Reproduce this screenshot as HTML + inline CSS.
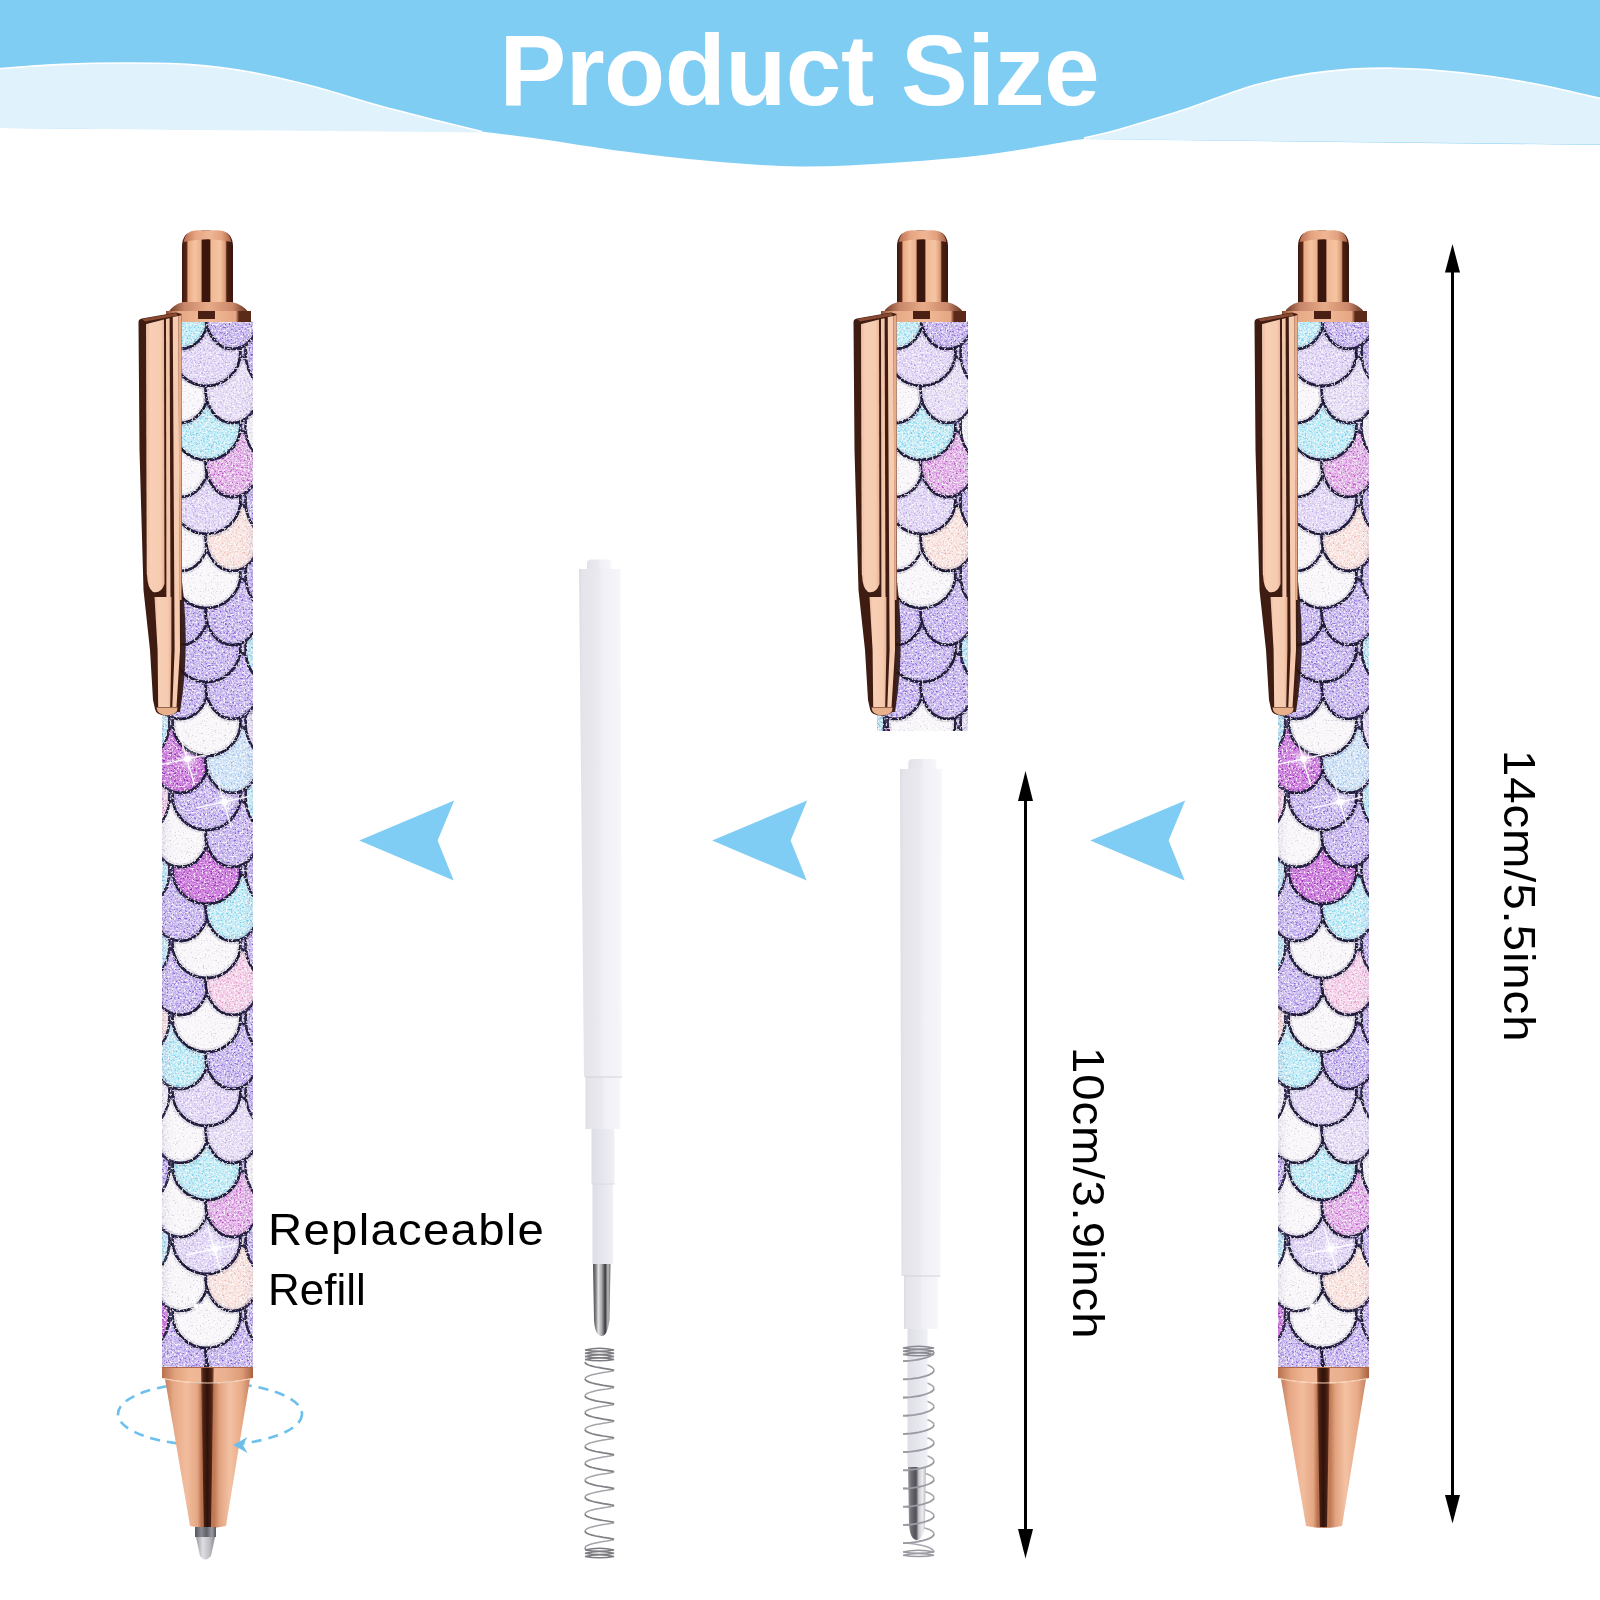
<!DOCTYPE html>
<html><head><meta charset="utf-8"><style>
html,body{margin:0;padding:0;background:#fff;}
body{width:1600px;height:1600px;position:relative;overflow:hidden;font-family:"Liberation Sans",sans-serif;}
.t{position:absolute;white-space:nowrap;line-height:1;}
</style></head><body>
<svg width="1600" height="1600" viewBox="0 0 1600 1600" style="position:absolute;left:0;top:0"><defs>
<filter id="glit" x="0" y="0" width="1" height="1">
 <feTurbulence type="fractalNoise" baseFrequency="0.5" numOctaves="2" seed="5"/>
 <feColorMatrix type="matrix" values="0 0 0 0 1  0 0 0 0 1  0 0 0 0 1  9 0 0 0 -5.0"/>
</filter>
<filter id="lnoise" x="0" y="0" width="1" height="1">
 <feTurbulence type="fractalNoise" baseFrequency="0.55" numOctaves="2" seed="21"/>
 <feColorMatrix type="matrix" values="3.2 0 0 0 -0.95  3.2 0 0 0 -0.95  3.2 0 0 0 -0.95  0 0 0 0 1"/>
</filter>
<filter id="glit2" x="0" y="0" width="1" height="1">
 <feTurbulence type="fractalNoise" baseFrequency="0.6" numOctaves="2" seed="11"/>
 <feColorMatrix type="matrix" values="0 0 0 0 0.1  0 0 0 0 0.1  0 0 0 0 0.2  14 0 0 0 -9.4"/>
</filter>
<linearGradient id="btn" x1="0" x2="1" y1="0" y2="0">
 <stop offset="0" stop-color="#3b170d"/><stop offset="0.09" stop-color="#5a2a1a"/>
 <stop offset="0.12" stop-color="#eaa982"/><stop offset="0.25" stop-color="#f6c3a1"/><stop offset="0.37" stop-color="#eab08c"/>
 <stop offset="0.40" stop-color="#3a160c"/><stop offset="0.54" stop-color="#3a160c"/>
 <stop offset="0.57" stop-color="#f0b996"/><stop offset="0.75" stop-color="#f6c4a2"/><stop offset="0.85" stop-color="#d99a76"/>
 <stop offset="0.88" stop-color="#4a1f12"/><stop offset="1" stop-color="#3a160c"/>
</linearGradient>
<linearGradient id="dome" x1="0" x2="1" y1="0" y2="0">
 <stop offset="0" stop-color="#b86e4e"/><stop offset="0.25" stop-color="#e6a582"/><stop offset="0.55" stop-color="#f0b694"/><stop offset="0.8" stop-color="#e2a07e"/><stop offset="1" stop-color="#a85e40"/>
</linearGradient>
<linearGradient id="shd" x1="0" x2="1" y1="0" y2="0">
 <stop offset="0" stop-color="#6a3420"/><stop offset="0.2" stop-color="#c7866a"/><stop offset="0.5" stop-color="#e8ab88"/>
 <stop offset="0.8" stop-color="#c9886a"/><stop offset="1" stop-color="#5a2a1a"/>
</linearGradient>
<linearGradient id="ring" x1="0" x2="1" y1="0" y2="0">
 <stop offset="0" stop-color="#8a4a30"/><stop offset="0.15" stop-color="#e5a783"/><stop offset="0.5" stop-color="#f2bb98"/>
 <stop offset="0.82" stop-color="#e4a683"/><stop offset="0.86" stop-color="#5c2a18"/><stop offset="1" stop-color="#5a2a1a"/>
</linearGradient>
<linearGradient id="ring2" x1="0" x2="1" y1="0" y2="0">
 <stop offset="0" stop-color="#b8714f"/><stop offset="0.15" stop-color="#e3a47f"/><stop offset="0.3" stop-color="#f0b896"/><stop offset="0.7" stop-color="#eab190"/><stop offset="0.88" stop-color="#dd9c78"/><stop offset="1" stop-color="#a9623f"/>
</linearGradient>
<linearGradient id="cone" x1="0" x2="1" y1="0" y2="0">
 <stop offset="0" stop-color="#c27e5c"/><stop offset="0.1" stop-color="#e7a885"/><stop offset="0.25" stop-color="#f2bd9e"/>
 <stop offset="0.38" stop-color="#e5a784"/><stop offset="0.43" stop-color="#b97250"/><stop offset="0.58" stop-color="#c07a56"/>
 <stop offset="0.64" stop-color="#e2a27f"/><stop offset="0.76" stop-color="#f3c2a3"/><stop offset="0.9" stop-color="#e8ab88"/><stop offset="1" stop-color="#c58260"/>
</linearGradient>
<linearGradient id="stripe" x1="0" x2="1" y1="0" y2="0">
 <stop offset="0" stop-color="#8a4a2e"/><stop offset="0.2" stop-color="#4a2014"/><stop offset="0.5" stop-color="#2e120a"/><stop offset="0.8" stop-color="#4a2014"/><stop offset="1" stop-color="#8a4a2e"/>
</linearGradient>
<linearGradient id="clipg" x1="0" x2="1" y1="0" y2="0">
 <stop offset="0" stop-color="#eeb99b"/><stop offset="0.2" stop-color="#f8cfb5"/><stop offset="0.8" stop-color="#f6cbb0"/><stop offset="1" stop-color="#e8b093"/>
</linearGradient>
<linearGradient id="tipg" x1="0" x2="1" y1="0" y2="0">
 <stop offset="0" stop-color="#55555c"/><stop offset="0.3" stop-color="#8a8a92"/><stop offset="0.55" stop-color="#606068"/><stop offset="0.8" stop-color="#9a9aa2"/><stop offset="1" stop-color="#55555c"/>
</linearGradient>
<linearGradient id="tipg2" x1="0" x2="1" y1="0" y2="0">
 <stop offset="0" stop-color="#9a9a9e"/><stop offset="0.35" stop-color="#dedee2"/><stop offset="0.7" stop-color="#c0c0c4"/><stop offset="1" stop-color="#8a8a8e"/>
</linearGradient>
<linearGradient id="mtip" x1="0" x2="1" y1="0" y2="0">
 <stop offset="0" stop-color="#4a4a4e"/><stop offset="0.18" stop-color="#8a8a8e"/><stop offset="0.3" stop-color="#e4e4e6"/>
 <stop offset="0.5" stop-color="#a8a8ac"/><stop offset="0.7" stop-color="#3a3a3e"/><stop offset="0.85" stop-color="#bdbdc0"/><stop offset="1" stop-color="#6a6a6e"/>
</linearGradient>
<linearGradient id="mtip2" x1="0" x2="1" y1="0" y2="0">
 <stop offset="0" stop-color="#9a9aa0"/><stop offset="0.2" stop-color="#6a6a70"/><stop offset="0.45" stop-color="#505056"/>
 <stop offset="0.6" stop-color="#c8c8ce"/><stop offset="0.8" stop-color="#ececf0"/><stop offset="1" stop-color="#b8b8be"/>
</linearGradient>
<linearGradient id="rfg" x1="0" x2="1" y1="0" y2="0">
 <stop offset="0" stop-color="#dcdce3"/><stop offset="0.08" stop-color="#e4e4ea"/><stop offset="0.45" stop-color="#e9e9ef"/>
 <stop offset="0.55" stop-color="#f0f0f6"/><stop offset="0.9" stop-color="#f4f4f9"/><stop offset="1" stop-color="#f8f8fb"/>
</linearGradient>
<linearGradient id="rfg2" x1="0" x2="1" y1="0" y2="0">
 <stop offset="0" stop-color="#dedee6"/><stop offset="0.5" stop-color="#e6e6ee"/><stop offset="1" stop-color="#f0f0f6"/>
</linearGradient>
<radialGradient id="glow"><stop offset="0" stop-color="#fff" stop-opacity="1"/><stop offset="0.35" stop-color="#fff" stop-opacity="0.6"/><stop offset="1" stop-color="#fff" stop-opacity="0"/></radialGradient>
<linearGradient id="cyl" x1="0" x2="1" y1="0" y2="0">
 <stop offset="0" stop-color="#5a3a8a" stop-opacity="0.18"/><stop offset="0.15" stop-color="#ffffff" stop-opacity="0"/>
 <stop offset="0.85" stop-color="#ffffff" stop-opacity="0"/><stop offset="1" stop-color="#5a3a8a" stop-opacity="0.12"/>
</linearGradient>
</defs><style>.so{stroke:#17152a;stroke-width:2.8}.sh{stroke:#2a2050;stroke-width:7;stroke-opacity:0.18}</style><path d="M0,0 L1600,0 L1600,145 L1084,139  C1075.0,139.7 1048.2,145.0 1030,148 C1011.8,151.0 998.3,153.5 975,156 C951.7,158.5 919.2,161.2 890,163 C860.8,164.8 830.0,166.8 800,166.5 C770.0,166.2 739.2,163.5 710,161 C680.8,158.5 653.3,155.3 625,151.6 C596.7,147.9 563.8,142.3 540,139 C516.2,135.7 491.7,132.8 482,131.5 L0,128 Z" fill="#80cdf4"/><path d="M0,68.5 C10.3,67.8 41.2,65.3 62,64.4 C82.8,63.5 104.2,63.0 125,63 C145.8,63.0 166.2,62.9 187,64.4 C207.8,65.9 229.2,68.4 250,72 C270.8,75.6 291.2,80.6 312,86 C332.8,91.4 354.2,98.8 375,104.5 C395.8,110.2 419.2,116.0 437,120.5 C454.8,125.0 474.5,129.7 482,131.5 L482,132.5 L0,128 Z" fill="#e0f2fc"/><path d="M1084,138 C1089.8,136.6 1101.8,134.3 1119,129.4 C1136.2,124.5 1164.2,116.2 1187,108.8 C1209.8,101.3 1233.0,90.9 1256,84.7 C1279.0,78.5 1302.0,74.3 1325,71.6 C1348.0,68.8 1371.2,68.0 1394,68.2 C1416.8,68.4 1439.2,70.2 1462,72.7 C1484.8,75.2 1508.0,78.7 1531,83 C1554.0,87.3 1588.5,95.8 1600,98.4 L1600,144.5 L1084,139 Z" fill="#e0f2fc"/><path d="M0,68.5 C10.3,67.8 41.2,65.3 62,64.4 C82.8,63.5 104.2,63.0 125,63 C145.8,63.0 166.2,62.9 187,64.4 C207.8,65.9 229.2,68.4 250,72 C270.8,75.6 291.2,80.6 312,86 C332.8,91.4 354.2,98.8 375,104.5 C395.8,110.2 419.2,116.0 437,120.5 C454.8,125.0 474.5,129.7 482,131.5" stroke="#ffffff" stroke-width="1.6" fill="none"/><path d="M1084,138 C1089.8,136.6 1101.8,134.3 1119,129.4 C1136.2,124.5 1164.2,116.2 1187,108.8 C1209.8,101.3 1233.0,90.9 1256,84.7 C1279.0,78.5 1302.0,74.3 1325,71.6 C1348.0,68.8 1371.2,68.0 1394,68.2 C1416.8,68.4 1439.2,70.2 1462,72.7 C1484.8,75.2 1508.0,78.7 1531,83 C1554.0,87.3 1588.5,95.8 1600,98.4" stroke="#ffffff" stroke-width="1.6" fill="none"/><path d="M359.2,840.4 L454.2,800.6 L437.6,840.4 L453.7,880.6 Z" fill="#7fcdf4"/><path d="M712.2,840.4 L807.2,800.6 L790.6,840.4 L806.7,880.6 Z" fill="#7fcdf4"/><path d="M1090.2,840.4 L1185.2,800.6 L1168.6,840.4 L1184.7,880.6 Z" fill="#7fcdf4"/><rect x="1451" y="270" width="3" height="1228" fill="#000"/><path d="M1452.5,244 L1460,272.5 L1445,272.5 Z" fill="#000"/><path d="M1452.5,1523.5 L1460,1495 L1445,1495 Z" fill="#000"/><rect x="1024" y="798" width="3" height="733" fill="#000"/><path d="M1025.5,771 L1033,801 L1018,801 Z" fill="#000"/><path d="M1025.5,1558.5 L1033,1529 L1018,1529 Z" fill="#000"/><ellipse cx="210" cy="1414" rx="92" ry="31.5" fill="none" stroke="#6dc0ec" stroke-width="2.6" stroke-dasharray="10 7"/><clipPath id="c1"><rect x="162" y="321" width="91" height="1048"/></clipPath><rect x="162" y="321" width="91" height="1048" fill="#c9b6ec"/><g clip-path="url(#c1)"><ellipse cx="147.5" cy="1388" rx="22" ry="34" fill="#b29ae8" class="so"/><ellipse cx="267.5" cy="1388" rx="22" ry="34" fill="#a6e3f4" class="so"/><circle cx="206.5" cy="1388" r="34" fill="#b29ae8" class="so"/><circle cx="206.5" cy="1388" r="34" fill="none" class="sh"/><ellipse cx="180.5" cy="1351" rx="28" ry="34" fill="#b29ae8" class="so"/><ellipse cx="180.5" cy="1351" rx="28" ry="34" fill="none" class="sh"/><ellipse cx="232.5" cy="1351" rx="27" ry="34" fill="#b29ae8" class="so"/><ellipse cx="232.5" cy="1351" rx="27" ry="34" fill="none" class="sh"/><ellipse cx="147.5" cy="1314" rx="22" ry="34" fill="#b962cf" class="so"/><ellipse cx="267.5" cy="1314" rx="22" ry="34" fill="#b29ae8" class="so"/><circle cx="206.5" cy="1314" r="34" fill="#f7f3f8" class="so"/><circle cx="206.5" cy="1314" r="34" fill="none" class="sh"/><ellipse cx="180.5" cy="1277" rx="28" ry="34" fill="#f7f3f8" class="so"/><ellipse cx="180.5" cy="1277" rx="28" ry="34" fill="none" class="sh"/><ellipse cx="232.5" cy="1277" rx="27" ry="34" fill="#f8d9d3" class="so"/><ellipse cx="232.5" cy="1277" rx="27" ry="34" fill="none" class="sh"/><ellipse cx="147.5" cy="1240" rx="22" ry="34" fill="#a6e3f4" class="so"/><ellipse cx="267.5" cy="1240" rx="22" ry="34" fill="#b29ae8" class="so"/><circle cx="206.5" cy="1240" r="34" fill="#d6c6f2" class="so"/><circle cx="206.5" cy="1240" r="34" fill="none" class="sh"/><ellipse cx="180.5" cy="1203" rx="28" ry="34" fill="#f7f3f8" class="so"/><ellipse cx="180.5" cy="1203" rx="28" ry="34" fill="none" class="sh"/><ellipse cx="232.5" cy="1203" rx="27" ry="34" fill="#d690dd" class="so"/><ellipse cx="232.5" cy="1203" rx="27" ry="34" fill="none" class="sh"/><ellipse cx="147.5" cy="1166" rx="22" ry="34" fill="#b29ae8" class="so"/><ellipse cx="267.5" cy="1166" rx="22" ry="34" fill="#f7f3f8" class="so"/><circle cx="206.5" cy="1166" r="34" fill="#a6e3f4" class="so"/><circle cx="206.5" cy="1166" r="34" fill="none" class="sh"/><ellipse cx="180.5" cy="1129" rx="28" ry="34" fill="#f7f3f8" class="so"/><ellipse cx="180.5" cy="1129" rx="28" ry="34" fill="none" class="sh"/><ellipse cx="232.5" cy="1129" rx="27" ry="34" fill="#ddd0f2" class="so"/><ellipse cx="232.5" cy="1129" rx="27" ry="34" fill="none" class="sh"/><ellipse cx="147.5" cy="1092" rx="22" ry="34" fill="#f7f3f8" class="so"/><ellipse cx="267.5" cy="1092" rx="22" ry="34" fill="#b29ae8" class="so"/><circle cx="206.5" cy="1092" r="34" fill="#d6c6f2" class="so"/><circle cx="206.5" cy="1092" r="34" fill="none" class="sh"/><ellipse cx="180.5" cy="1055" rx="28" ry="34" fill="#a6e3f4" class="so"/><ellipse cx="180.5" cy="1055" rx="28" ry="34" fill="none" class="sh"/><ellipse cx="232.5" cy="1055" rx="27" ry="34" fill="#b29ae8" class="so"/><ellipse cx="232.5" cy="1055" rx="27" ry="34" fill="none" class="sh"/><ellipse cx="147.5" cy="1018" rx="22" ry="34" fill="#f8d9d3" class="so"/><ellipse cx="267.5" cy="1018" rx="22" ry="34" fill="#b29ae8" class="so"/><circle cx="206.5" cy="1018" r="34" fill="#f7f3f8" class="so"/><circle cx="206.5" cy="1018" r="34" fill="none" class="sh"/><ellipse cx="180.5" cy="981" rx="28" ry="34" fill="#b29ae8" class="so"/><ellipse cx="180.5" cy="981" rx="28" ry="34" fill="none" class="sh"/><ellipse cx="232.5" cy="981" rx="27" ry="34" fill="#f1bde0" class="so"/><ellipse cx="232.5" cy="981" rx="27" ry="34" fill="none" class="sh"/><ellipse cx="147.5" cy="944" rx="22" ry="34" fill="#a6e3f4" class="so"/><ellipse cx="267.5" cy="944" rx="22" ry="34" fill="#b29ae8" class="so"/><circle cx="206.5" cy="944" r="34" fill="#f7f3f8" class="so"/><circle cx="206.5" cy="944" r="34" fill="none" class="sh"/><ellipse cx="180.5" cy="907" rx="28" ry="34" fill="#b29ae8" class="so"/><ellipse cx="180.5" cy="907" rx="28" ry="34" fill="none" class="sh"/><ellipse cx="232.5" cy="907" rx="27" ry="34" fill="#a6e3f4" class="so"/><ellipse cx="232.5" cy="907" rx="27" ry="34" fill="none" class="sh"/><ellipse cx="147.5" cy="870" rx="22" ry="34" fill="#a6e3f4" class="so"/><ellipse cx="267.5" cy="870" rx="22" ry="34" fill="#b29ae8" class="so"/><circle cx="206.5" cy="870" r="34" fill="#b962cf" class="so"/><circle cx="206.5" cy="870" r="34" fill="none" class="sh"/><ellipse cx="180.5" cy="833" rx="28" ry="34" fill="#f7f3f8" class="so"/><ellipse cx="180.5" cy="833" rx="28" ry="34" fill="none" class="sh"/><ellipse cx="232.5" cy="833" rx="27" ry="34" fill="#b29ae8" class="so"/><ellipse cx="232.5" cy="833" rx="27" ry="34" fill="none" class="sh"/><ellipse cx="147.5" cy="796" rx="22" ry="34" fill="#f1bde0" class="so"/><ellipse cx="267.5" cy="796" rx="22" ry="34" fill="#a6e3f4" class="so"/><circle cx="206.5" cy="796" r="34" fill="#b29ae8" class="so"/><circle cx="206.5" cy="796" r="34" fill="none" class="sh"/><ellipse cx="180.5" cy="759" rx="28" ry="34" fill="#b962cf" class="so"/><ellipse cx="180.5" cy="759" rx="28" ry="34" fill="none" class="sh"/><ellipse cx="232.5" cy="759" rx="27" ry="34" fill="#bcd8f4" class="so"/><ellipse cx="232.5" cy="759" rx="27" ry="34" fill="none" class="sh"/><ellipse cx="147.5" cy="722" rx="22" ry="34" fill="#a6e3f4" class="so"/><ellipse cx="267.5" cy="722" rx="22" ry="34" fill="#ddd0f2" class="so"/><circle cx="206.5" cy="722" r="34" fill="#f7f3f8" class="so"/><circle cx="206.5" cy="722" r="34" fill="none" class="sh"/><ellipse cx="180.5" cy="685" rx="28" ry="34" fill="#b29ae8" class="so"/><ellipse cx="180.5" cy="685" rx="28" ry="34" fill="none" class="sh"/><ellipse cx="232.5" cy="685" rx="27" ry="34" fill="#b29ae8" class="so"/><ellipse cx="232.5" cy="685" rx="27" ry="34" fill="none" class="sh"/><ellipse cx="147.5" cy="648" rx="22" ry="34" fill="#b29ae8" class="so"/><ellipse cx="267.5" cy="648" rx="22" ry="34" fill="#a6e3f4" class="so"/><circle cx="206.5" cy="648" r="34" fill="#b29ae8" class="so"/><circle cx="206.5" cy="648" r="34" fill="none" class="sh"/><ellipse cx="180.5" cy="611" rx="28" ry="34" fill="#b29ae8" class="so"/><ellipse cx="180.5" cy="611" rx="28" ry="34" fill="none" class="sh"/><ellipse cx="232.5" cy="611" rx="27" ry="34" fill="#b29ae8" class="so"/><ellipse cx="232.5" cy="611" rx="27" ry="34" fill="none" class="sh"/><ellipse cx="147.5" cy="574" rx="22" ry="34" fill="#b962cf" class="so"/><ellipse cx="267.5" cy="574" rx="22" ry="34" fill="#b29ae8" class="so"/><circle cx="206.5" cy="574" r="34" fill="#f7f3f8" class="so"/><circle cx="206.5" cy="574" r="34" fill="none" class="sh"/><ellipse cx="180.5" cy="537" rx="28" ry="34" fill="#f7f3f8" class="so"/><ellipse cx="180.5" cy="537" rx="28" ry="34" fill="none" class="sh"/><ellipse cx="232.5" cy="537" rx="27" ry="34" fill="#f8d9d3" class="so"/><ellipse cx="232.5" cy="537" rx="27" ry="34" fill="none" class="sh"/><ellipse cx="147.5" cy="500" rx="22" ry="34" fill="#a6e3f4" class="so"/><ellipse cx="267.5" cy="500" rx="22" ry="34" fill="#b29ae8" class="so"/><circle cx="206.5" cy="500" r="34" fill="#d6c6f2" class="so"/><circle cx="206.5" cy="500" r="34" fill="none" class="sh"/><ellipse cx="180.5" cy="463" rx="28" ry="34" fill="#f7f3f8" class="so"/><ellipse cx="180.5" cy="463" rx="28" ry="34" fill="none" class="sh"/><ellipse cx="232.5" cy="463" rx="27" ry="34" fill="#d690dd" class="so"/><ellipse cx="232.5" cy="463" rx="27" ry="34" fill="none" class="sh"/><ellipse cx="147.5" cy="426" rx="22" ry="34" fill="#b29ae8" class="so"/><ellipse cx="267.5" cy="426" rx="22" ry="34" fill="#f7f3f8" class="so"/><circle cx="206.5" cy="426" r="34" fill="#a6e3f4" class="so"/><circle cx="206.5" cy="426" r="34" fill="none" class="sh"/><ellipse cx="180.5" cy="389" rx="28" ry="34" fill="#f7f3f8" class="so"/><ellipse cx="180.5" cy="389" rx="28" ry="34" fill="none" class="sh"/><ellipse cx="232.5" cy="389" rx="27" ry="34" fill="#ddd0f2" class="so"/><ellipse cx="232.5" cy="389" rx="27" ry="34" fill="none" class="sh"/><ellipse cx="147.5" cy="352" rx="22" ry="34" fill="#f7f3f8" class="so"/><ellipse cx="267.5" cy="352" rx="22" ry="34" fill="#b29ae8" class="so"/><circle cx="206.5" cy="352" r="34" fill="#d6c6f2" class="so"/><circle cx="206.5" cy="352" r="34" fill="none" class="sh"/><ellipse cx="180.5" cy="315" rx="28" ry="34" fill="#a6e3f4" class="so"/><ellipse cx="180.5" cy="315" rx="28" ry="34" fill="none" class="sh"/><ellipse cx="232.5" cy="315" rx="27" ry="34" fill="#b29ae8" class="so"/><ellipse cx="232.5" cy="315" rx="27" ry="34" fill="none" class="sh"/></g><rect x="162" y="321" width="91" height="1048" fill="url(#cyl)"/><rect x="162" y="321" width="91" height="1048" filter="url(#lnoise)" style="mix-blend-mode:overlay" opacity="0.5"/><rect x="162" y="321" width="91" height="1048" filter="url(#glit)" opacity="0.75"/><rect x="162" y="321" width="91" height="1048" filter="url(#glit2)" opacity="0.2"/><g clip-path="url(#c1)"><circle cx="187.5" cy="759" r="11.0" fill="url(#glow)" opacity="0.9"/><path d="M159.5,765.0 L209.5,754.0" stroke="#fff" stroke-width="1.4" opacity="0.9"/><path d="M180.5,737.0 L194.5,785.0" stroke="#fff" stroke-width="1.4" opacity="0.9"/><circle cx="187.5" cy="759" r="3.2" fill="#fff"/><circle cx="224.5" cy="802" r="11.0" fill="url(#glow)" opacity="0.9"/><path d="M196.5,808.0 L246.5,797.0" stroke="#fff" stroke-width="1.4" opacity="0.9"/><path d="M217.5,780.0 L231.5,828.0" stroke="#fff" stroke-width="1.4" opacity="0.9"/><circle cx="224.5" cy="802" r="3.2" fill="#fff"/><circle cx="215" cy="1249" r="11.0" fill="url(#glow)" opacity="0.9"/><path d="M187.0,1255.0 L237.0,1244.0" stroke="#fff" stroke-width="1.4" opacity="0.9"/><path d="M208.0,1227.0 L222.0,1275.0" stroke="#fff" stroke-width="1.4" opacity="0.9"/><circle cx="215" cy="1249" r="3.2" fill="#fff"/><circle cx="196" cy="1306" r="7.699999999999999" fill="url(#glow)" opacity="0.9"/><path d="M176.4,1310.2 L211.4,1302.5" stroke="#fff" stroke-width="0.9799999999999999" opacity="0.9"/><path d="M191.1,1290.6 L200.9,1324.2" stroke="#fff" stroke-width="0.9799999999999999" opacity="0.9"/><circle cx="196" cy="1306" r="2.2399999999999998" fill="#fff"/></g><path d="M182,303 L182,246 Q182.5,232 195,230.5 L220,230.5 Q232.5,232 233,246 L233,303 Z" fill="url(#btn)"/><path d="M183.5,242 Q185,231.5 196,230.5 L219,230.5 Q230,231.5 231.5,242 Q207.5,236.5 183.5,242 Z" fill="url(#dome)"/><path d="M183,302 L232,302 Q244,305 249,313 L168,313 Q172,305 183,302 Z" fill="url(#shd)"/><rect x="166" y="311" width="85" height="11" fill="url(#ring)"/><rect x="198" y="311" width="17" height="8" fill="#4a2014"/><path d="M179,560 Q192,640 180,712 L172,712 L172,560 Z" fill="#2a1410" opacity="0.9"/><path d="M138.5,322 Q138.5,319 142,318.5 L176,312.5 L181.5,314 L182,600 L180.5,706 Q179,715 166,715.5 Q156,715 155,709 L153,700 L150,650 L143.5,590 L139.5,450 Z" fill="#3f1c12"/><path d="M146.5,324 L164,319.5 L164.5,584 Q161,594 153,592 Q147.5,588 147,575 Z" fill="url(#clipg)"/><path d="M146.2,324 L147.2,324 L147.7,575 L146.8,575 Z" fill="#f8d2ba"/><path d="M166,319 L169.6,318.2 L170.5,598 L166.4,598 Z" fill="#f3c6aa"/><path d="M154.5,597 L171.4,597 L171.4,650 L170.2,707 L158.2,707 L157.6,650 Z" fill="url(#clipg)"/><path d="M172.75,317 L178.4,316 L180,650 L176.5,707 L172.3,707 L174.6,650 Z" fill="#f6cbb0"/><path d="M178.4,316 L181.5,315 L181.5,600 L179.5,600 Z" fill="#e7ac8a"/><path d="M142,319 L176,313 L178,315.5 L145,321.5 Z" fill="#8a4a32"/><path d="M156.5,707.5 L177.5,707.5 Q178,715 167,715.5 Q157,715 156.5,707.5 Z" fill="#e9b08c"/><path d="M162,1367 L253,1367 L253,1378 Q207.5,1387 162,1378 Z" fill="url(#ring2)"/><path d="M165,1379 Q207.5,1388 250,1379 L226,1526 Q208,1530 190,1526 Z" fill="url(#cone)"/><path d="M201,1367 L213.7,1367 L211,1527 L203.8,1527 Z" fill="url(#stripe)"/><path d="M163,1378.5 Q207.5,1387.5 252,1378.5" stroke="#f6cdb0" stroke-width="1.2" fill="none"/><path d="M162,1367.5 L253,1367.5" stroke="#b06848" stroke-width="1" fill="none"/><rect x="195" y="1527" width="21" height="10" fill="url(#tipg)"/><path d="M196,1537 L215,1537 L211,1556 Q205.5,1563 200,1556 Z" fill="url(#tipg2)"/><clipPath id="c2"><rect x="877" y="321" width="91" height="410"/></clipPath><rect x="877" y="321" width="91" height="410" fill="#c9b6ec"/><g clip-path="url(#c2)"><ellipse cx="895.5" cy="759" rx="28" ry="34" fill="#b962cf" class="so"/><ellipse cx="895.5" cy="759" rx="28" ry="34" fill="none" class="sh"/><ellipse cx="947.5" cy="759" rx="27" ry="34" fill="#bcd8f4" class="so"/><ellipse cx="947.5" cy="759" rx="27" ry="34" fill="none" class="sh"/><ellipse cx="862.5" cy="722" rx="22" ry="34" fill="#a6e3f4" class="so"/><ellipse cx="982.5" cy="722" rx="22" ry="34" fill="#ddd0f2" class="so"/><circle cx="921.5" cy="722" r="34" fill="#f7f3f8" class="so"/><circle cx="921.5" cy="722" r="34" fill="none" class="sh"/><ellipse cx="895.5" cy="685" rx="28" ry="34" fill="#b29ae8" class="so"/><ellipse cx="895.5" cy="685" rx="28" ry="34" fill="none" class="sh"/><ellipse cx="947.5" cy="685" rx="27" ry="34" fill="#b29ae8" class="so"/><ellipse cx="947.5" cy="685" rx="27" ry="34" fill="none" class="sh"/><ellipse cx="862.5" cy="648" rx="22" ry="34" fill="#b29ae8" class="so"/><ellipse cx="982.5" cy="648" rx="22" ry="34" fill="#a6e3f4" class="so"/><circle cx="921.5" cy="648" r="34" fill="#b29ae8" class="so"/><circle cx="921.5" cy="648" r="34" fill="none" class="sh"/><ellipse cx="895.5" cy="611" rx="28" ry="34" fill="#b29ae8" class="so"/><ellipse cx="895.5" cy="611" rx="28" ry="34" fill="none" class="sh"/><ellipse cx="947.5" cy="611" rx="27" ry="34" fill="#b29ae8" class="so"/><ellipse cx="947.5" cy="611" rx="27" ry="34" fill="none" class="sh"/><ellipse cx="862.5" cy="574" rx="22" ry="34" fill="#b962cf" class="so"/><ellipse cx="982.5" cy="574" rx="22" ry="34" fill="#b29ae8" class="so"/><circle cx="921.5" cy="574" r="34" fill="#f7f3f8" class="so"/><circle cx="921.5" cy="574" r="34" fill="none" class="sh"/><ellipse cx="895.5" cy="537" rx="28" ry="34" fill="#f7f3f8" class="so"/><ellipse cx="895.5" cy="537" rx="28" ry="34" fill="none" class="sh"/><ellipse cx="947.5" cy="537" rx="27" ry="34" fill="#f8d9d3" class="so"/><ellipse cx="947.5" cy="537" rx="27" ry="34" fill="none" class="sh"/><ellipse cx="862.5" cy="500" rx="22" ry="34" fill="#a6e3f4" class="so"/><ellipse cx="982.5" cy="500" rx="22" ry="34" fill="#b29ae8" class="so"/><circle cx="921.5" cy="500" r="34" fill="#d6c6f2" class="so"/><circle cx="921.5" cy="500" r="34" fill="none" class="sh"/><ellipse cx="895.5" cy="463" rx="28" ry="34" fill="#f7f3f8" class="so"/><ellipse cx="895.5" cy="463" rx="28" ry="34" fill="none" class="sh"/><ellipse cx="947.5" cy="463" rx="27" ry="34" fill="#d690dd" class="so"/><ellipse cx="947.5" cy="463" rx="27" ry="34" fill="none" class="sh"/><ellipse cx="862.5" cy="426" rx="22" ry="34" fill="#b29ae8" class="so"/><ellipse cx="982.5" cy="426" rx="22" ry="34" fill="#f7f3f8" class="so"/><circle cx="921.5" cy="426" r="34" fill="#a6e3f4" class="so"/><circle cx="921.5" cy="426" r="34" fill="none" class="sh"/><ellipse cx="895.5" cy="389" rx="28" ry="34" fill="#f7f3f8" class="so"/><ellipse cx="895.5" cy="389" rx="28" ry="34" fill="none" class="sh"/><ellipse cx="947.5" cy="389" rx="27" ry="34" fill="#ddd0f2" class="so"/><ellipse cx="947.5" cy="389" rx="27" ry="34" fill="none" class="sh"/><ellipse cx="862.5" cy="352" rx="22" ry="34" fill="#f7f3f8" class="so"/><ellipse cx="982.5" cy="352" rx="22" ry="34" fill="#b29ae8" class="so"/><circle cx="921.5" cy="352" r="34" fill="#d6c6f2" class="so"/><circle cx="921.5" cy="352" r="34" fill="none" class="sh"/><ellipse cx="895.5" cy="315" rx="28" ry="34" fill="#a6e3f4" class="so"/><ellipse cx="895.5" cy="315" rx="28" ry="34" fill="none" class="sh"/><ellipse cx="947.5" cy="315" rx="27" ry="34" fill="#b29ae8" class="so"/><ellipse cx="947.5" cy="315" rx="27" ry="34" fill="none" class="sh"/></g><rect x="877" y="321" width="91" height="410" fill="url(#cyl)"/><rect x="877" y="321" width="91" height="410" filter="url(#lnoise)" style="mix-blend-mode:overlay" opacity="0.5"/><rect x="877" y="321" width="91" height="410" filter="url(#glit)" opacity="0.75"/><rect x="877" y="321" width="91" height="410" filter="url(#glit2)" opacity="0.2"/><path d="M897,303 L897,246 Q897.5,232 910,230.5 L935,230.5 Q947.5,232 948,246 L948,303 Z" fill="url(#btn)"/><path d="M898.5,242 Q900,231.5 911,230.5 L934,230.5 Q945,231.5 946.5,242 Q922.5,236.5 898.5,242 Z" fill="url(#dome)"/><path d="M898,302 L947,302 Q959,305 964,313 L883,313 Q887,305 898,302 Z" fill="url(#shd)"/><rect x="881" y="311" width="85" height="11" fill="url(#ring)"/><rect x="913" y="311" width="17" height="8" fill="#4a2014"/><path d="M894,560 Q907,640 895,712 L887,712 L887,560 Z" fill="#2a1410" opacity="0.9"/><path d="M853.5,322 Q853.5,319 857,318.5 L891,312.5 L896.5,314 L897,600 L895.5,706 Q894,715 881,715.5 Q871,715 870,709 L868,700 L865,650 L858.5,590 L854.5,450 Z" fill="#3f1c12"/><path d="M861.5,324 L879,319.5 L879.5,584 Q876,594 868,592 Q862.5,588 862,575 Z" fill="url(#clipg)"/><path d="M861.2,324 L862.2,324 L862.7,575 L861.8,575 Z" fill="#f8d2ba"/><path d="M881,319 L884.6,318.2 L885.5,598 L881.4,598 Z" fill="#f3c6aa"/><path d="M869.5,597 L886.4,597 L886.4,650 L885.2,707 L873.2,707 L872.6,650 Z" fill="url(#clipg)"/><path d="M887.75,317 L893.4,316 L895,650 L891.5,707 L887.3,707 L889.6,650 Z" fill="#f6cbb0"/><path d="M893.4,316 L896.5,315 L896.5,600 L894.5,600 Z" fill="#e7ac8a"/><path d="M857,319 L891,313 L893,315.5 L860,321.5 Z" fill="#8a4a32"/><path d="M871.5,707.5 L892.5,707.5 Q893,715 882,715.5 Q872,715 871.5,707.5 Z" fill="#e9b08c"/><clipPath id="c3"><rect x="1278" y="321" width="91" height="1048"/></clipPath><rect x="1278" y="321" width="91" height="1048" fill="#c9b6ec"/><g clip-path="url(#c3)"><ellipse cx="1263.5" cy="1388" rx="22" ry="34" fill="#b29ae8" class="so"/><ellipse cx="1383.5" cy="1388" rx="22" ry="34" fill="#a6e3f4" class="so"/><circle cx="1322.5" cy="1388" r="34" fill="#b29ae8" class="so"/><circle cx="1322.5" cy="1388" r="34" fill="none" class="sh"/><ellipse cx="1296.5" cy="1351" rx="28" ry="34" fill="#b29ae8" class="so"/><ellipse cx="1296.5" cy="1351" rx="28" ry="34" fill="none" class="sh"/><ellipse cx="1348.5" cy="1351" rx="27" ry="34" fill="#b29ae8" class="so"/><ellipse cx="1348.5" cy="1351" rx="27" ry="34" fill="none" class="sh"/><ellipse cx="1263.5" cy="1314" rx="22" ry="34" fill="#b962cf" class="so"/><ellipse cx="1383.5" cy="1314" rx="22" ry="34" fill="#b29ae8" class="so"/><circle cx="1322.5" cy="1314" r="34" fill="#f7f3f8" class="so"/><circle cx="1322.5" cy="1314" r="34" fill="none" class="sh"/><ellipse cx="1296.5" cy="1277" rx="28" ry="34" fill="#f7f3f8" class="so"/><ellipse cx="1296.5" cy="1277" rx="28" ry="34" fill="none" class="sh"/><ellipse cx="1348.5" cy="1277" rx="27" ry="34" fill="#f8d9d3" class="so"/><ellipse cx="1348.5" cy="1277" rx="27" ry="34" fill="none" class="sh"/><ellipse cx="1263.5" cy="1240" rx="22" ry="34" fill="#a6e3f4" class="so"/><ellipse cx="1383.5" cy="1240" rx="22" ry="34" fill="#b29ae8" class="so"/><circle cx="1322.5" cy="1240" r="34" fill="#d6c6f2" class="so"/><circle cx="1322.5" cy="1240" r="34" fill="none" class="sh"/><ellipse cx="1296.5" cy="1203" rx="28" ry="34" fill="#f7f3f8" class="so"/><ellipse cx="1296.5" cy="1203" rx="28" ry="34" fill="none" class="sh"/><ellipse cx="1348.5" cy="1203" rx="27" ry="34" fill="#d690dd" class="so"/><ellipse cx="1348.5" cy="1203" rx="27" ry="34" fill="none" class="sh"/><ellipse cx="1263.5" cy="1166" rx="22" ry="34" fill="#b29ae8" class="so"/><ellipse cx="1383.5" cy="1166" rx="22" ry="34" fill="#f7f3f8" class="so"/><circle cx="1322.5" cy="1166" r="34" fill="#a6e3f4" class="so"/><circle cx="1322.5" cy="1166" r="34" fill="none" class="sh"/><ellipse cx="1296.5" cy="1129" rx="28" ry="34" fill="#f7f3f8" class="so"/><ellipse cx="1296.5" cy="1129" rx="28" ry="34" fill="none" class="sh"/><ellipse cx="1348.5" cy="1129" rx="27" ry="34" fill="#ddd0f2" class="so"/><ellipse cx="1348.5" cy="1129" rx="27" ry="34" fill="none" class="sh"/><ellipse cx="1263.5" cy="1092" rx="22" ry="34" fill="#f7f3f8" class="so"/><ellipse cx="1383.5" cy="1092" rx="22" ry="34" fill="#b29ae8" class="so"/><circle cx="1322.5" cy="1092" r="34" fill="#d6c6f2" class="so"/><circle cx="1322.5" cy="1092" r="34" fill="none" class="sh"/><ellipse cx="1296.5" cy="1055" rx="28" ry="34" fill="#a6e3f4" class="so"/><ellipse cx="1296.5" cy="1055" rx="28" ry="34" fill="none" class="sh"/><ellipse cx="1348.5" cy="1055" rx="27" ry="34" fill="#b29ae8" class="so"/><ellipse cx="1348.5" cy="1055" rx="27" ry="34" fill="none" class="sh"/><ellipse cx="1263.5" cy="1018" rx="22" ry="34" fill="#f8d9d3" class="so"/><ellipse cx="1383.5" cy="1018" rx="22" ry="34" fill="#b29ae8" class="so"/><circle cx="1322.5" cy="1018" r="34" fill="#f7f3f8" class="so"/><circle cx="1322.5" cy="1018" r="34" fill="none" class="sh"/><ellipse cx="1296.5" cy="981" rx="28" ry="34" fill="#b29ae8" class="so"/><ellipse cx="1296.5" cy="981" rx="28" ry="34" fill="none" class="sh"/><ellipse cx="1348.5" cy="981" rx="27" ry="34" fill="#f1bde0" class="so"/><ellipse cx="1348.5" cy="981" rx="27" ry="34" fill="none" class="sh"/><ellipse cx="1263.5" cy="944" rx="22" ry="34" fill="#a6e3f4" class="so"/><ellipse cx="1383.5" cy="944" rx="22" ry="34" fill="#b29ae8" class="so"/><circle cx="1322.5" cy="944" r="34" fill="#f7f3f8" class="so"/><circle cx="1322.5" cy="944" r="34" fill="none" class="sh"/><ellipse cx="1296.5" cy="907" rx="28" ry="34" fill="#b29ae8" class="so"/><ellipse cx="1296.5" cy="907" rx="28" ry="34" fill="none" class="sh"/><ellipse cx="1348.5" cy="907" rx="27" ry="34" fill="#a6e3f4" class="so"/><ellipse cx="1348.5" cy="907" rx="27" ry="34" fill="none" class="sh"/><ellipse cx="1263.5" cy="870" rx="22" ry="34" fill="#a6e3f4" class="so"/><ellipse cx="1383.5" cy="870" rx="22" ry="34" fill="#b29ae8" class="so"/><circle cx="1322.5" cy="870" r="34" fill="#b962cf" class="so"/><circle cx="1322.5" cy="870" r="34" fill="none" class="sh"/><ellipse cx="1296.5" cy="833" rx="28" ry="34" fill="#f7f3f8" class="so"/><ellipse cx="1296.5" cy="833" rx="28" ry="34" fill="none" class="sh"/><ellipse cx="1348.5" cy="833" rx="27" ry="34" fill="#b29ae8" class="so"/><ellipse cx="1348.5" cy="833" rx="27" ry="34" fill="none" class="sh"/><ellipse cx="1263.5" cy="796" rx="22" ry="34" fill="#f1bde0" class="so"/><ellipse cx="1383.5" cy="796" rx="22" ry="34" fill="#a6e3f4" class="so"/><circle cx="1322.5" cy="796" r="34" fill="#b29ae8" class="so"/><circle cx="1322.5" cy="796" r="34" fill="none" class="sh"/><ellipse cx="1296.5" cy="759" rx="28" ry="34" fill="#b962cf" class="so"/><ellipse cx="1296.5" cy="759" rx="28" ry="34" fill="none" class="sh"/><ellipse cx="1348.5" cy="759" rx="27" ry="34" fill="#bcd8f4" class="so"/><ellipse cx="1348.5" cy="759" rx="27" ry="34" fill="none" class="sh"/><ellipse cx="1263.5" cy="722" rx="22" ry="34" fill="#a6e3f4" class="so"/><ellipse cx="1383.5" cy="722" rx="22" ry="34" fill="#ddd0f2" class="so"/><circle cx="1322.5" cy="722" r="34" fill="#f7f3f8" class="so"/><circle cx="1322.5" cy="722" r="34" fill="none" class="sh"/><ellipse cx="1296.5" cy="685" rx="28" ry="34" fill="#b29ae8" class="so"/><ellipse cx="1296.5" cy="685" rx="28" ry="34" fill="none" class="sh"/><ellipse cx="1348.5" cy="685" rx="27" ry="34" fill="#b29ae8" class="so"/><ellipse cx="1348.5" cy="685" rx="27" ry="34" fill="none" class="sh"/><ellipse cx="1263.5" cy="648" rx="22" ry="34" fill="#b29ae8" class="so"/><ellipse cx="1383.5" cy="648" rx="22" ry="34" fill="#a6e3f4" class="so"/><circle cx="1322.5" cy="648" r="34" fill="#b29ae8" class="so"/><circle cx="1322.5" cy="648" r="34" fill="none" class="sh"/><ellipse cx="1296.5" cy="611" rx="28" ry="34" fill="#b29ae8" class="so"/><ellipse cx="1296.5" cy="611" rx="28" ry="34" fill="none" class="sh"/><ellipse cx="1348.5" cy="611" rx="27" ry="34" fill="#b29ae8" class="so"/><ellipse cx="1348.5" cy="611" rx="27" ry="34" fill="none" class="sh"/><ellipse cx="1263.5" cy="574" rx="22" ry="34" fill="#b962cf" class="so"/><ellipse cx="1383.5" cy="574" rx="22" ry="34" fill="#b29ae8" class="so"/><circle cx="1322.5" cy="574" r="34" fill="#f7f3f8" class="so"/><circle cx="1322.5" cy="574" r="34" fill="none" class="sh"/><ellipse cx="1296.5" cy="537" rx="28" ry="34" fill="#f7f3f8" class="so"/><ellipse cx="1296.5" cy="537" rx="28" ry="34" fill="none" class="sh"/><ellipse cx="1348.5" cy="537" rx="27" ry="34" fill="#f8d9d3" class="so"/><ellipse cx="1348.5" cy="537" rx="27" ry="34" fill="none" class="sh"/><ellipse cx="1263.5" cy="500" rx="22" ry="34" fill="#a6e3f4" class="so"/><ellipse cx="1383.5" cy="500" rx="22" ry="34" fill="#b29ae8" class="so"/><circle cx="1322.5" cy="500" r="34" fill="#d6c6f2" class="so"/><circle cx="1322.5" cy="500" r="34" fill="none" class="sh"/><ellipse cx="1296.5" cy="463" rx="28" ry="34" fill="#f7f3f8" class="so"/><ellipse cx="1296.5" cy="463" rx="28" ry="34" fill="none" class="sh"/><ellipse cx="1348.5" cy="463" rx="27" ry="34" fill="#d690dd" class="so"/><ellipse cx="1348.5" cy="463" rx="27" ry="34" fill="none" class="sh"/><ellipse cx="1263.5" cy="426" rx="22" ry="34" fill="#b29ae8" class="so"/><ellipse cx="1383.5" cy="426" rx="22" ry="34" fill="#f7f3f8" class="so"/><circle cx="1322.5" cy="426" r="34" fill="#a6e3f4" class="so"/><circle cx="1322.5" cy="426" r="34" fill="none" class="sh"/><ellipse cx="1296.5" cy="389" rx="28" ry="34" fill="#f7f3f8" class="so"/><ellipse cx="1296.5" cy="389" rx="28" ry="34" fill="none" class="sh"/><ellipse cx="1348.5" cy="389" rx="27" ry="34" fill="#ddd0f2" class="so"/><ellipse cx="1348.5" cy="389" rx="27" ry="34" fill="none" class="sh"/><ellipse cx="1263.5" cy="352" rx="22" ry="34" fill="#f7f3f8" class="so"/><ellipse cx="1383.5" cy="352" rx="22" ry="34" fill="#b29ae8" class="so"/><circle cx="1322.5" cy="352" r="34" fill="#d6c6f2" class="so"/><circle cx="1322.5" cy="352" r="34" fill="none" class="sh"/><ellipse cx="1296.5" cy="315" rx="28" ry="34" fill="#a6e3f4" class="so"/><ellipse cx="1296.5" cy="315" rx="28" ry="34" fill="none" class="sh"/><ellipse cx="1348.5" cy="315" rx="27" ry="34" fill="#b29ae8" class="so"/><ellipse cx="1348.5" cy="315" rx="27" ry="34" fill="none" class="sh"/></g><rect x="1278" y="321" width="91" height="1048" fill="url(#cyl)"/><rect x="1278" y="321" width="91" height="1048" filter="url(#lnoise)" style="mix-blend-mode:overlay" opacity="0.5"/><rect x="1278" y="321" width="91" height="1048" filter="url(#glit)" opacity="0.75"/><rect x="1278" y="321" width="91" height="1048" filter="url(#glit2)" opacity="0.2"/><g clip-path="url(#c3)"><circle cx="1303.5" cy="759" r="11.0" fill="url(#glow)" opacity="0.9"/><path d="M1275.5,765.0 L1325.5,754.0" stroke="#fff" stroke-width="1.4" opacity="0.9"/><path d="M1296.5,737.0 L1310.5,785.0" stroke="#fff" stroke-width="1.4" opacity="0.9"/><circle cx="1303.5" cy="759" r="3.2" fill="#fff"/><circle cx="1340.5" cy="802" r="11.0" fill="url(#glow)" opacity="0.9"/><path d="M1312.5,808.0 L1362.5,797.0" stroke="#fff" stroke-width="1.4" opacity="0.9"/><path d="M1333.5,780.0 L1347.5,828.0" stroke="#fff" stroke-width="1.4" opacity="0.9"/><circle cx="1340.5" cy="802" r="3.2" fill="#fff"/><circle cx="1331" cy="1249" r="11.0" fill="url(#glow)" opacity="0.9"/><path d="M1303.0,1255.0 L1353.0,1244.0" stroke="#fff" stroke-width="1.4" opacity="0.9"/><path d="M1324.0,1227.0 L1338.0,1275.0" stroke="#fff" stroke-width="1.4" opacity="0.9"/><circle cx="1331" cy="1249" r="3.2" fill="#fff"/><circle cx="1312" cy="1306" r="7.699999999999999" fill="url(#glow)" opacity="0.9"/><path d="M1292.4,1310.2 L1327.4,1302.5" stroke="#fff" stroke-width="0.9799999999999999" opacity="0.9"/><path d="M1307.1,1290.6 L1316.9,1324.2" stroke="#fff" stroke-width="0.9799999999999999" opacity="0.9"/><circle cx="1312" cy="1306" r="2.2399999999999998" fill="#fff"/></g><path d="M1298,303 L1298,246 Q1298.5,232 1311,230.5 L1336,230.5 Q1348.5,232 1349,246 L1349,303 Z" fill="url(#btn)"/><path d="M1299.5,242 Q1301,231.5 1312,230.5 L1335,230.5 Q1346,231.5 1347.5,242 Q1323.5,236.5 1299.5,242 Z" fill="url(#dome)"/><path d="M1299,302 L1348,302 Q1360,305 1365,313 L1284,313 Q1288,305 1299,302 Z" fill="url(#shd)"/><rect x="1282" y="311" width="85" height="11" fill="url(#ring)"/><rect x="1314" y="311" width="17" height="8" fill="#4a2014"/><path d="M1295,560 Q1308,640 1296,712 L1288,712 L1288,560 Z" fill="#2a1410" opacity="0.9"/><path d="M1254.5,322 Q1254.5,319 1258,318.5 L1292,312.5 L1297.5,314 L1298,600 L1296.5,706 Q1295,715 1282,715.5 Q1272,715 1271,709 L1269,700 L1266,650 L1259.5,590 L1255.5,450 Z" fill="#3f1c12"/><path d="M1262.5,324 L1280,319.5 L1280.5,584 Q1277,594 1269,592 Q1263.5,588 1263,575 Z" fill="url(#clipg)"/><path d="M1262.2,324 L1263.2,324 L1263.7,575 L1262.8,575 Z" fill="#f8d2ba"/><path d="M1282,319 L1285.6,318.2 L1286.5,598 L1282.4,598 Z" fill="#f3c6aa"/><path d="M1270.5,597 L1287.4,597 L1287.4,650 L1286.2,707 L1274.2,707 L1273.6,650 Z" fill="url(#clipg)"/><path d="M1288.75,317 L1294.4,316 L1296,650 L1292.5,707 L1288.3,707 L1290.6,650 Z" fill="#f6cbb0"/><path d="M1294.4,316 L1297.5,315 L1297.5,600 L1295.5,600 Z" fill="#e7ac8a"/><path d="M1258,319 L1292,313 L1294,315.5 L1261,321.5 Z" fill="#8a4a32"/><path d="M1272.5,707.5 L1293.5,707.5 Q1294,715 1283,715.5 Q1273,715 1272.5,707.5 Z" fill="#e9b08c"/><path d="M1278,1367 L1369,1367 L1369,1378 Q1323.5,1387 1278,1378 Z" fill="url(#ring2)"/><path d="M1281,1379 Q1323.5,1388 1366,1379 L1342,1526 Q1324,1530 1306,1526 Z" fill="url(#cone)"/><path d="M1317,1367 L1329.7,1367 L1327,1527 L1319.8,1527 Z" fill="url(#stripe)"/><path d="M1279,1378.5 Q1323.5,1387.5 1368,1378.5" stroke="#f6cdb0" stroke-width="1.2" fill="none"/><path d="M1278,1367.5 L1369,1367.5" stroke="#b06848" stroke-width="1" fill="none"/><path d="M233,1445 L247.5,1437 L243,1445 L247.5,1453 Z" fill="#6dbfea"/><path d="M585.0,1350.0 Q599.5,1346.5 614.0,1350.0 Q599.5,1352.5 585.0,1350.0" stroke="#7b7b80" stroke-width="1.5" fill="none"/><path d="M585.0,1353.2 Q599.5,1349.7 614.0,1353.2 Q599.5,1355.7 585.0,1353.2" stroke="#7b7b80" stroke-width="1.5" fill="none"/><path d="M585.0,1356.4 Q599.5,1352.9 614.0,1356.4 Q599.5,1358.9 585.0,1356.4" stroke="#7b7b80" stroke-width="1.5" fill="none"/><path d="M585.0,1359.6 Q599.5,1356.1 614.0,1359.6 Q599.5,1362.1 585.0,1359.6" stroke="#7b7b80" stroke-width="1.5" fill="none"/><path d="M614.0,1370.5 L613.5,1370.8 L612.1,1371.1 L609.8,1371.5 L606.8,1372.0 L603.3,1372.5 L599.5,1373.2 L595.7,1373.9 L592.2,1374.8 L589.2,1375.7 L586.9,1376.7 L585.5,1377.8 L585.0,1378.9M614.0,1387.4 L613.5,1387.7 L612.1,1388.0 L609.8,1388.4 L606.8,1388.9 L603.3,1389.4 L599.5,1390.1 L595.7,1390.8 L592.2,1391.7 L589.2,1392.6 L586.9,1393.6 L585.5,1394.7 L585.0,1395.8M614.0,1404.2 L613.5,1404.6 L612.1,1404.9 L609.8,1405.3 L606.8,1405.8 L603.3,1406.3 L599.5,1407.0 L595.7,1407.7 L592.2,1408.6 L589.2,1409.5 L586.9,1410.5 L585.5,1411.6 L585.0,1412.7M614.0,1421.2 L613.5,1421.5 L612.1,1421.8 L609.8,1422.2 L606.8,1422.7 L603.3,1423.2 L599.5,1423.9 L595.7,1424.6 L592.2,1425.5 L589.2,1426.4 L586.9,1427.4 L585.5,1428.5 L585.0,1429.6M614.0,1438.0 L613.5,1438.4 L612.1,1438.7 L609.8,1439.1 L606.8,1439.6 L603.3,1440.1 L599.5,1440.8 L595.7,1441.5 L592.2,1442.4 L589.2,1443.3 L586.9,1444.3 L585.5,1445.4 L585.0,1446.5M614.0,1455.0 L613.5,1455.3 L612.1,1455.6 L609.8,1456.0 L606.8,1456.5 L603.3,1457.0 L599.5,1457.7 L595.7,1458.4 L592.2,1459.3 L589.2,1460.2 L586.9,1461.2 L585.5,1462.3 L585.0,1463.4M614.0,1471.9 L613.5,1472.2 L612.1,1472.5 L609.8,1472.9 L606.8,1473.4 L603.3,1473.9 L599.5,1474.6 L595.7,1475.3 L592.2,1476.2 L589.2,1477.1 L586.9,1478.1 L585.5,1479.2 L585.0,1480.3M614.0,1488.8 L613.5,1489.1 L612.1,1489.4 L609.8,1489.8 L606.8,1490.3 L603.3,1490.8 L599.5,1491.5 L595.7,1492.2 L592.2,1493.1 L589.2,1494.0 L586.9,1495.0 L585.5,1496.1 L585.0,1497.2M614.0,1505.7 L613.5,1506.0 L612.1,1506.3 L609.8,1506.7 L606.8,1507.2 L603.3,1507.7 L599.5,1508.4 L595.7,1509.1 L592.2,1510.0 L589.2,1510.9 L586.9,1511.9 L585.5,1513.0 L585.0,1514.1M614.0,1522.5 L613.5,1522.9 L612.1,1523.2 L609.8,1523.6 L606.8,1524.1 L603.3,1524.6 L599.5,1525.3 L595.7,1526.0 L592.2,1526.9 L589.2,1527.8 L586.9,1528.8 L585.5,1529.9 L585.0,1531.0M614.0,1539.5 L613.5,1539.8 L612.1,1540.1 L609.8,1540.5 L606.8,1541.0 L603.3,1541.5 L599.5,1542.2 L595.7,1542.9 L592.2,1543.8 L589.2,1544.7 L586.9,1545.7 L585.5,1546.8 L585.0,1547.9" stroke="#a4a4aa" stroke-width="1.5" fill="none"/><path d="M585.0,1362.0 L585.5,1363.1 L586.9,1364.2 L589.2,1365.2 L592.2,1366.1 L595.7,1367.0 L599.5,1367.7 L603.3,1368.4 L606.8,1368.9 L609.8,1369.4 L612.1,1369.8 L613.5,1370.1 L614.0,1370.5M585.0,1378.9 L585.5,1380.0 L586.9,1381.1 L589.2,1382.1 L592.2,1383.0 L595.7,1383.9 L599.5,1384.6 L603.3,1385.3 L606.8,1385.8 L609.8,1386.3 L612.1,1386.7 L613.5,1387.0 L614.0,1387.4M585.0,1395.8 L585.5,1396.9 L586.9,1398.0 L589.2,1399.0 L592.2,1399.9 L595.7,1400.8 L599.5,1401.5 L603.3,1402.2 L606.8,1402.7 L609.8,1403.2 L612.1,1403.6 L613.5,1403.9 L614.0,1404.2M585.0,1412.7 L585.5,1413.8 L586.9,1414.9 L589.2,1415.9 L592.2,1416.8 L595.7,1417.7 L599.5,1418.4 L603.3,1419.1 L606.8,1419.6 L609.8,1420.1 L612.1,1420.5 L613.5,1420.8 L614.0,1421.2M585.0,1429.6 L585.5,1430.7 L586.9,1431.8 L589.2,1432.8 L592.2,1433.7 L595.7,1434.6 L599.5,1435.3 L603.3,1436.0 L606.8,1436.5 L609.8,1437.0 L612.1,1437.4 L613.5,1437.7 L614.0,1438.0M585.0,1446.5 L585.5,1447.6 L586.9,1448.7 L589.2,1449.7 L592.2,1450.6 L595.7,1451.5 L599.5,1452.2 L603.3,1452.9 L606.8,1453.4 L609.8,1453.9 L612.1,1454.3 L613.5,1454.6 L614.0,1455.0M585.0,1463.4 L585.5,1464.5 L586.9,1465.6 L589.2,1466.6 L592.2,1467.5 L595.7,1468.4 L599.5,1469.1 L603.3,1469.8 L606.8,1470.3 L609.8,1470.8 L612.1,1471.2 L613.5,1471.5 L614.0,1471.9M585.0,1480.3 L585.5,1481.4 L586.9,1482.5 L589.2,1483.5 L592.2,1484.4 L595.7,1485.3 L599.5,1486.0 L603.3,1486.7 L606.8,1487.2 L609.8,1487.7 L612.1,1488.1 L613.5,1488.4 L614.0,1488.8M585.0,1497.2 L585.5,1498.3 L586.9,1499.4 L589.2,1500.4 L592.2,1501.3 L595.7,1502.2 L599.5,1502.9 L603.3,1503.6 L606.8,1504.1 L609.8,1504.6 L612.1,1505.0 L613.5,1505.3 L614.0,1505.7M585.0,1514.1 L585.5,1515.2 L586.9,1516.3 L589.2,1517.3 L592.2,1518.2 L595.7,1519.1 L599.5,1519.8 L603.3,1520.5 L606.8,1521.0 L609.8,1521.5 L612.1,1521.9 L613.5,1522.2 L614.0,1522.5M585.0,1531.0 L585.5,1532.1 L586.9,1533.2 L589.2,1534.2 L592.2,1535.1 L595.7,1536.0 L599.5,1536.7 L603.3,1537.4 L606.8,1537.9 L609.8,1538.4 L612.1,1538.8 L613.5,1539.1 L614.0,1539.5M585.0,1547.9 L585.5,1549.0" stroke="#808086" stroke-width="1.7" fill="none"/><path d="M585.0,1550.0 Q599.5,1546.5 614.0,1550.0 Q599.5,1552.5 585.0,1550.0" stroke="#7b7b80" stroke-width="1.5" fill="none"/><path d="M585.0,1553.2 Q599.5,1549.7 614.0,1553.2 Q599.5,1555.7 585.0,1553.2" stroke="#7b7b80" stroke-width="1.5" fill="none"/><path d="M585.0,1556.4 Q599.5,1552.9 614.0,1556.4 Q599.5,1558.9 585.0,1556.4" stroke="#7b7b80" stroke-width="1.5" fill="none"/><path d="M587,570.5 L587,563.0 Q587.5,559.5 591,559.5 L607.5,559.5 Q611.0,559.5 611.5,563.0 L611.5,570.5 Z" fill="url(#rfg)"/><path d="M579,569 L620.5,569 L622,1077 L584,1077 Z" fill="url(#rfg)"/><rect x="585.5" y="1077" width="35.0" height="52" fill="url(#rfg)"/><line x1="585.5" y1="1077" x2="622" y2="1077" stroke="#d4d2dc" stroke-width="1"/><rect x="591.5" y="1129" width="23.0" height="55" fill="url(#rfg2)"/><rect x="592.5" y="1184" width="20.5" height="80" fill="url(#rfg2)"/><line x1="591.5" y1="1184" x2="614.5" y2="1184" stroke="#dcdae4" stroke-width="1"/><path d="M593,1264 L610.5,1264 L609.5,1320 Q607.5,1336 601.75,1336 Q595,1336 594,1320 Z" fill="url(#mtip)"/><path d="M903.0,1361.1 L903.5,1361.1 L905.1,1361.1 L907.5,1361.3 L910.8,1361.5 L914.5,1362.0 L918.5,1362.7 L922.5,1363.5 L926.2,1364.6 L929.5,1365.8 L931.9,1367.2 L933.5,1368.7 L934.0,1370.2M903.0,1379.3 L903.5,1379.3 L905.1,1379.3 L907.5,1379.5 L910.8,1379.7 L914.5,1380.2 L918.5,1380.9 L922.5,1381.7 L926.2,1382.8 L929.5,1384.0 L931.9,1385.4 L933.5,1386.9 L934.0,1388.4M903.0,1397.5 L903.5,1397.5 L905.1,1397.5 L907.5,1397.7 L910.8,1397.9 L914.5,1398.4 L918.5,1399.1 L922.5,1399.9 L926.2,1401.0 L929.5,1402.2 L931.9,1403.6 L933.5,1405.1 L934.0,1406.6M903.0,1415.7 L903.5,1415.7 L905.1,1415.7 L907.5,1415.9 L910.8,1416.1 L914.5,1416.6 L918.5,1417.2 L922.5,1418.1 L926.2,1419.2 L929.5,1420.4 L931.9,1421.8 L933.5,1423.3 L934.0,1424.8M903.0,1433.9 L903.5,1433.9 L905.1,1433.9 L907.5,1434.1 L910.8,1434.3 L914.5,1434.8 L918.5,1435.5 L922.5,1436.3 L926.2,1437.4 L929.5,1438.6 L931.9,1440.0 L933.5,1441.5 L934.0,1443.0M903.0,1452.1 L903.5,1452.1 L905.1,1452.1 L907.5,1452.3 L910.8,1452.5 L914.5,1453.0 L918.5,1453.7 L922.5,1454.5 L926.2,1455.6 L929.5,1456.8 L931.9,1458.2 L933.5,1459.7 L934.0,1461.2M903.0,1470.3 L903.5,1470.3 L905.1,1470.3 L907.5,1470.5 L910.8,1470.7 L914.5,1471.2 L918.5,1471.9 L922.5,1472.7 L926.2,1473.8 L929.5,1475.0 L931.9,1476.4 L933.5,1477.9 L934.0,1479.4M903.0,1488.5 L903.5,1488.5 L905.1,1488.5 L907.5,1488.7 L910.8,1488.9 L914.5,1489.4 L918.5,1490.1 L922.5,1490.9 L926.2,1492.0 L929.5,1493.2 L931.9,1494.6 L933.5,1496.1 L934.0,1497.6M903.0,1506.7 L903.5,1506.7 L905.1,1506.7 L907.5,1506.9 L910.8,1507.1 L914.5,1507.6 L918.5,1508.2 L922.5,1509.1 L926.2,1510.2 L929.5,1511.4 L931.9,1512.8 L933.5,1514.3 L934.0,1515.8M903.0,1524.9 L903.5,1524.9 L905.1,1524.9 L907.5,1525.1 L910.8,1525.3 L914.5,1525.8 L918.5,1526.5 L922.5,1527.3 L926.2,1528.4 L929.5,1529.6 L931.9,1531.0 L933.5,1532.5 L934.0,1534.0M903.0,1543.1 L903.5,1543.1 L905.1,1543.1 L907.5,1543.3 L910.8,1543.5 L914.5,1544.0 L918.5,1544.7 L922.5,1545.5 L926.2,1546.6 L929.5,1547.8 L931.9,1549.2 L933.5,1550.7 L934.0,1552.2" stroke="#a8a8b0" stroke-width="1.6" fill="none"/><path d="M908.5,770 L908.5,762.5 Q909.0,759 912.5,759 L932.5,759 Q936.0,759 936.5,762.5 L936.5,770 Z" fill="url(#rfg)"/><path d="M900,769 L942,769 L940.5,1276 L901.5,1276 Z" fill="url(#rfg)"/><rect x="904" y="1276" width="34" height="53" fill="url(#rfg)"/><line x1="904" y1="1276" x2="940.5" y2="1276" stroke="#d4d2dc" stroke-width="1"/><rect x="907.5" y="1329" width="20.0" height="138" fill="url(#rfg2)"/><path d="M908,1467 L926,1467 L925,1524 Q923,1540 917.0,1540 Q910,1540 909,1524 Z" fill="url(#mtip2)"/><path d="M903.0,1348.0 Q918.5,1344.5 934.0,1348.0 Q918.5,1350.5 903.0,1348.0" stroke="#8a8a92" stroke-width="1.5" fill="none"/><path d="M903.0,1351.2 Q918.5,1347.7 934.0,1351.2 Q918.5,1353.7 903.0,1351.2" stroke="#8a8a92" stroke-width="1.5" fill="none"/><path d="M903.0,1354.4 Q918.5,1350.9 934.0,1354.4 Q918.5,1356.9 903.0,1354.4" stroke="#8a8a92" stroke-width="1.5" fill="none"/><path d="M934.0,1352.0 L933.5,1353.5 L931.9,1355.0 L929.5,1356.4 L926.2,1357.6 L922.5,1358.7 L918.5,1359.5 L914.5,1360.2 L910.8,1360.7 L907.5,1360.9 L905.1,1361.1 L903.5,1361.1 L903.0,1361.1M934.0,1370.2 L933.5,1371.7 L931.9,1373.2 L929.5,1374.6 L926.2,1375.8 L922.5,1376.9 L918.5,1377.8 L914.5,1378.4 L910.8,1378.9 L907.5,1379.1 L905.1,1379.3 L903.5,1379.3 L903.0,1379.3M934.0,1388.4 L933.5,1389.9 L931.9,1391.4 L929.5,1392.8 L926.2,1394.0 L922.5,1395.1 L918.5,1396.0 L914.5,1396.6 L910.8,1397.1 L907.5,1397.3 L905.1,1397.5 L903.5,1397.5 L903.0,1397.5M934.0,1406.6 L933.5,1408.1 L931.9,1409.6 L929.5,1411.0 L926.2,1412.2 L922.5,1413.3 L918.5,1414.1 L914.5,1414.8 L910.8,1415.3 L907.5,1415.5 L905.1,1415.7 L903.5,1415.7 L903.0,1415.7M934.0,1424.8 L933.5,1426.3 L931.9,1427.8 L929.5,1429.2 L926.2,1430.4 L922.5,1431.5 L918.5,1432.3 L914.5,1433.0 L910.8,1433.5 L907.5,1433.7 L905.1,1433.9 L903.5,1433.9 L903.0,1433.9M934.0,1443.0 L933.5,1444.5 L931.9,1446.0 L929.5,1447.4 L926.2,1448.6 L922.5,1449.7 L918.5,1450.5 L914.5,1451.2 L910.8,1451.7 L907.5,1451.9 L905.1,1452.1 L903.5,1452.1 L903.0,1452.1M934.0,1461.2 L933.5,1462.7 L931.9,1464.2 L929.5,1465.6 L926.2,1466.8 L922.5,1467.9 L918.5,1468.8 L914.5,1469.4 L910.8,1469.9 L907.5,1470.1 L905.1,1470.3 L903.5,1470.3 L903.0,1470.3M934.0,1479.4 L933.5,1480.9 L931.9,1482.4 L929.5,1483.8 L926.2,1485.0 L922.5,1486.1 L918.5,1487.0 L914.5,1487.6 L910.8,1488.1 L907.5,1488.3 L905.1,1488.5 L903.5,1488.5 L903.0,1488.5M934.0,1497.6 L933.5,1499.1 L931.9,1500.6 L929.5,1502.0 L926.2,1503.2 L922.5,1504.3 L918.5,1505.1 L914.5,1505.8 L910.8,1506.3 L907.5,1506.5 L905.1,1506.7 L903.5,1506.7 L903.0,1506.7M934.0,1515.8 L933.5,1517.3 L931.9,1518.8 L929.5,1520.2 L926.2,1521.4 L922.5,1522.5 L918.5,1523.3 L914.5,1524.0 L910.8,1524.5 L907.5,1524.7 L905.1,1524.9 L903.5,1524.9 L903.0,1524.9M934.0,1534.0 L933.5,1535.5 L931.9,1537.0 L929.5,1538.4 L926.2,1539.6 L922.5,1540.7 L918.5,1541.5 L914.5,1542.2 L910.8,1542.7 L907.5,1542.9 L905.1,1543.1 L903.5,1543.1 L903.0,1543.1" stroke="#9a9aa2" stroke-width="1.8" fill="none"/><path d="M903.0,1552.0 Q918.5,1548.5 934.0,1552.0 Q918.5,1554.5 903.0,1552.0" stroke="#9a9aa2" stroke-width="1.5" fill="none"/><path d="M903.0,1555.2 Q918.5,1551.7 934.0,1555.2 Q918.5,1557.7 903.0,1555.2" stroke="#9a9aa2" stroke-width="1.5" fill="none"/></svg>
<div class="t" style="left:499.5px;top:20px;font-size:100px;font-weight:bold;color:#fff;letter-spacing:-0.5px;">Product Size</div>
<div class="t" style="left:268px;top:1208px;font-size:44px;color:#000;letter-spacing:1.2px;transform-origin:0 0;transform:scaleX(1.075);">Replaceable</div>
<div class="t" style="left:268px;top:1268px;font-size:44px;color:#000;letter-spacing:0px;">Refill</div>
<div class="t" style="left:1542px;top:750px;font-size:45px;color:#000;letter-spacing:0.9px;transform-origin:0 0;transform:rotate(90deg) scaleX(1.05);">14cm/5.5inch</div>
<div class="t" style="left:1111px;top:1047px;font-size:45px;color:#000;letter-spacing:0.9px;transform-origin:0 0;transform:rotate(90deg) scaleX(1.05);">10cm/3.9inch</div>
</body></html>
